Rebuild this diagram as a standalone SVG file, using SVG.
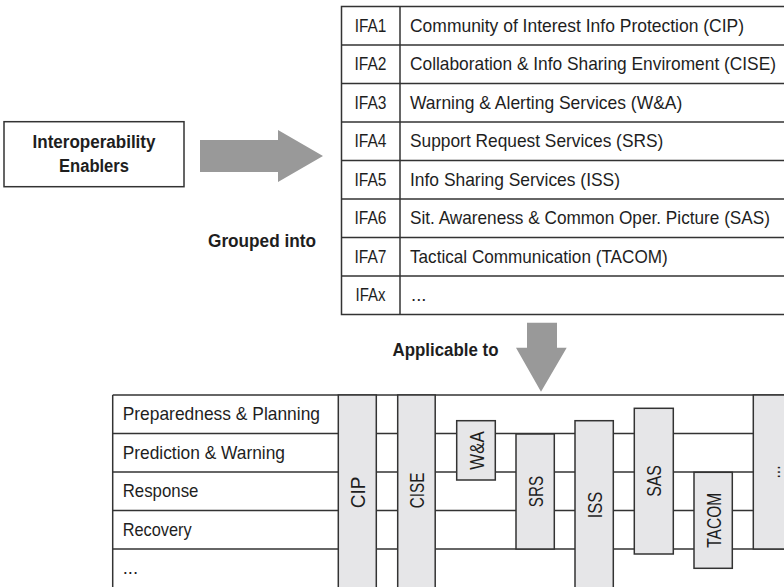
<svg xmlns="http://www.w3.org/2000/svg" width="784" height="587" viewBox="0 0 784 587">
<style>
.bg{fill:#ffffff}
.box{fill:#ffffff;stroke:#333333;stroke-width:1.5}
.ln{stroke:#333333;stroke-width:1.5;fill:none}
.bar{fill:#e6e6e8;stroke:#333333;stroke-width:1.5}
.arr{fill:#999999}
.t{font-family:"Liberation Sans",Arial,sans-serif;font-size:18.5px;fill:#1e1e1e}
.b{font-family:"Liberation Sans",Arial,sans-serif;font-size:18px;font-weight:bold;fill:#1e1e1e}
.v{font-family:"Liberation Sans",Arial,sans-serif;font-size:21px;fill:#1e1e1e;text-anchor:middle}
.c{text-anchor:middle}
</style>
<rect class="bg" x="0" y="0" width="784" height="587"/>

<g id="enablers">
<rect class="box" x="4" y="121.7" width="180" height="65"/>
<text class="b c" x="94" y="148" textLength="123" lengthAdjust="spacingAndGlyphs">Interoperability</text>
<text class="b c" x="94" y="172" textLength="70" lengthAdjust="spacingAndGlyphs">Enablers</text>
</g>

<g id="connectors">
<polygon class="arr" points="200,140 278,140 278,130 323,156 278,182 278,172 200,172"/>
<polygon class="arr" points="527,322.7 557,322.7 557,347.7 566.7,347.7 541,391.7 516,347.7 527,347.7"/>
<text class="b c" x="262" y="247" textLength="108" lengthAdjust="spacingAndGlyphs">Grouped into</text>
<text class="b c" x="445.5" y="356" textLength="106" lengthAdjust="spacingAndGlyphs">Applicable to</text>
</g>

<g id="ifa-table">
<rect class="box" x="341.5" y="6.5" width="450" height="308"/>
<line class="ln" x1="400" y1="6.5" x2="400" y2="314.5"/>
<line class="ln" x1="341.5" y1="45" x2="784" y2="45"/>
<line class="ln" x1="341.5" y1="83.5" x2="784" y2="83.5"/>
<line class="ln" x1="341.5" y1="122" x2="784" y2="122"/>
<line class="ln" x1="341.5" y1="160.5" x2="784" y2="160.5"/>
<line class="ln" x1="341.5" y1="199" x2="784" y2="199"/>
<line class="ln" x1="341.5" y1="237.5" x2="784" y2="237.5"/>
<line class="ln" x1="341.5" y1="276" x2="784" y2="276"/>
<g id="ifa1"><text class="t c" x="370.5" y="31.7" textLength="31.7" lengthAdjust="spacingAndGlyphs">IFA1</text><text class="t" x="410" y="31.7" textLength="334" lengthAdjust="spacingAndGlyphs">Community of Interest Info Protection (CIP)</text></g>
<g id="ifa2"><text class="t c" x="370.5" y="70.2" textLength="32" lengthAdjust="spacingAndGlyphs">IFA2</text><text class="t" x="410" y="70.2" textLength="366" lengthAdjust="spacingAndGlyphs">Collaboration &amp; Info Sharing Enviroment (CISE)</text></g>
<g id="ifa3"><text class="t c" x="370.5" y="108.7" textLength="32" lengthAdjust="spacingAndGlyphs">IFA3</text><text class="t" x="410" y="108.7" textLength="272.3" lengthAdjust="spacingAndGlyphs">Warning &amp; Alerting Services (W&amp;A)</text></g>
<g id="ifa4"><text class="t c" x="370.5" y="147.2" textLength="32" lengthAdjust="spacingAndGlyphs">IFA4</text><text class="t" x="410" y="147.2" textLength="253.3" lengthAdjust="spacingAndGlyphs">Support Request Services (SRS)</text></g>
<g id="ifa5"><text class="t c" x="370.5" y="185.7" textLength="32" lengthAdjust="spacingAndGlyphs">IFA5</text><text class="t" x="410" y="185.7" textLength="210" lengthAdjust="spacingAndGlyphs">Info Sharing Services (ISS)</text></g>
<g id="ifa6"><text class="t c" x="370.5" y="224.2" textLength="32" lengthAdjust="spacingAndGlyphs">IFA6</text><text class="t" x="410" y="224.2" textLength="360" lengthAdjust="spacingAndGlyphs">Sit. Awareness &amp; Common Oper. Picture (SAS)</text></g>
<g id="ifa7"><text class="t c" x="370.5" y="262.7" textLength="32" lengthAdjust="spacingAndGlyphs">IFA7</text><text class="t" x="410" y="262.7" textLength="257.7" lengthAdjust="spacingAndGlyphs">Tactical Communication (TACOM)</text></g>
<g id="ifax"><text class="t c" x="370.5" y="301.2" textLength="30" lengthAdjust="spacingAndGlyphs">IFAx</text><text class="t" x="411" y="301.2">...</text></g>
</g>

<g id="phases">
<line class="ln" x1="112.7" y1="395" x2="784" y2="395"/>
<line class="ln" x1="112.7" y1="433.5" x2="784" y2="433.5"/>
<line class="ln" x1="112.7" y1="472" x2="784" y2="472"/>
<line class="ln" x1="112.7" y1="510.5" x2="784" y2="510.5"/>
<line class="ln" x1="112.7" y1="549" x2="784" y2="549"/>
<line class="ln" x1="112.7" y1="395" x2="112.7" y2="590"/>
<text class="t" x="122.7" y="420" textLength="197.3" lengthAdjust="spacingAndGlyphs">Preparedness &amp; Planning</text>
<text class="t" x="122.7" y="458.5" textLength="162.3" lengthAdjust="spacingAndGlyphs">Prediction &amp; Warning</text>
<text class="t" x="122.7" y="497" textLength="75.7" lengthAdjust="spacingAndGlyphs">Response</text>
<text class="t" x="122.7" y="535.5" textLength="69" lengthAdjust="spacingAndGlyphs">Recovery</text>
<text class="t" x="122.7" y="574">...</text>
</g>

<g id="bar-cip"><rect class="bar" x="338.3" y="395" width="38" height="200"/><text class="v" transform="translate(357.3,492.5) rotate(-90)" y="7.5" textLength="31.6" lengthAdjust="spacingAndGlyphs">CIP</text></g>
<g id="bar-cise"><rect class="bar" x="397.7" y="395" width="37.5" height="200"/><text class="v" transform="translate(416.5,490.5) rotate(-90)" y="7.5" textLength="35.6" lengthAdjust="spacingAndGlyphs">CISE</text></g>
<g id="bar-wa"><rect class="bar" x="456.7" y="420.7" width="38.6" height="59.3"/><text class="v" transform="translate(476,450.5) rotate(-90)" y="7.5" textLength="38.3" lengthAdjust="spacingAndGlyphs">W&amp;A</text></g>
<g id="bar-srs"><rect class="bar" x="516" y="434" width="38.3" height="115"/><text class="v" transform="translate(535.2,491.5) rotate(-90)" y="7.5" textLength="31.3" lengthAdjust="spacingAndGlyphs">SRS</text></g>
<g id="bar-iss"><rect class="bar" x="575" y="420.7" width="38.3" height="170"/><text class="v" transform="translate(594.2,505) rotate(-90)" y="7.5" textLength="26.6" lengthAdjust="spacingAndGlyphs">ISS</text></g>
<g id="bar-sas"><rect class="bar" x="634.3" y="408.3" width="39" height="145.7"/><text class="v" transform="translate(653.8,481) rotate(-90)" y="7.5" textLength="31.7" lengthAdjust="spacingAndGlyphs">SAS</text></g>
<g id="bar-tacom"><rect class="bar" x="694" y="472.3" width="38.3" height="96"/><text class="v" transform="translate(713.2,520.3) rotate(-90)" y="7.5" textLength="55" lengthAdjust="spacingAndGlyphs">TACOM</text></g>
<g id="bar-more"><rect class="bar" x="753.3" y="395" width="40" height="154"/><text class="v" transform="translate(772.5,472) rotate(-90)" y="7.5" textLength="13" lengthAdjust="spacingAndGlyphs">...</text></g>
</svg>
